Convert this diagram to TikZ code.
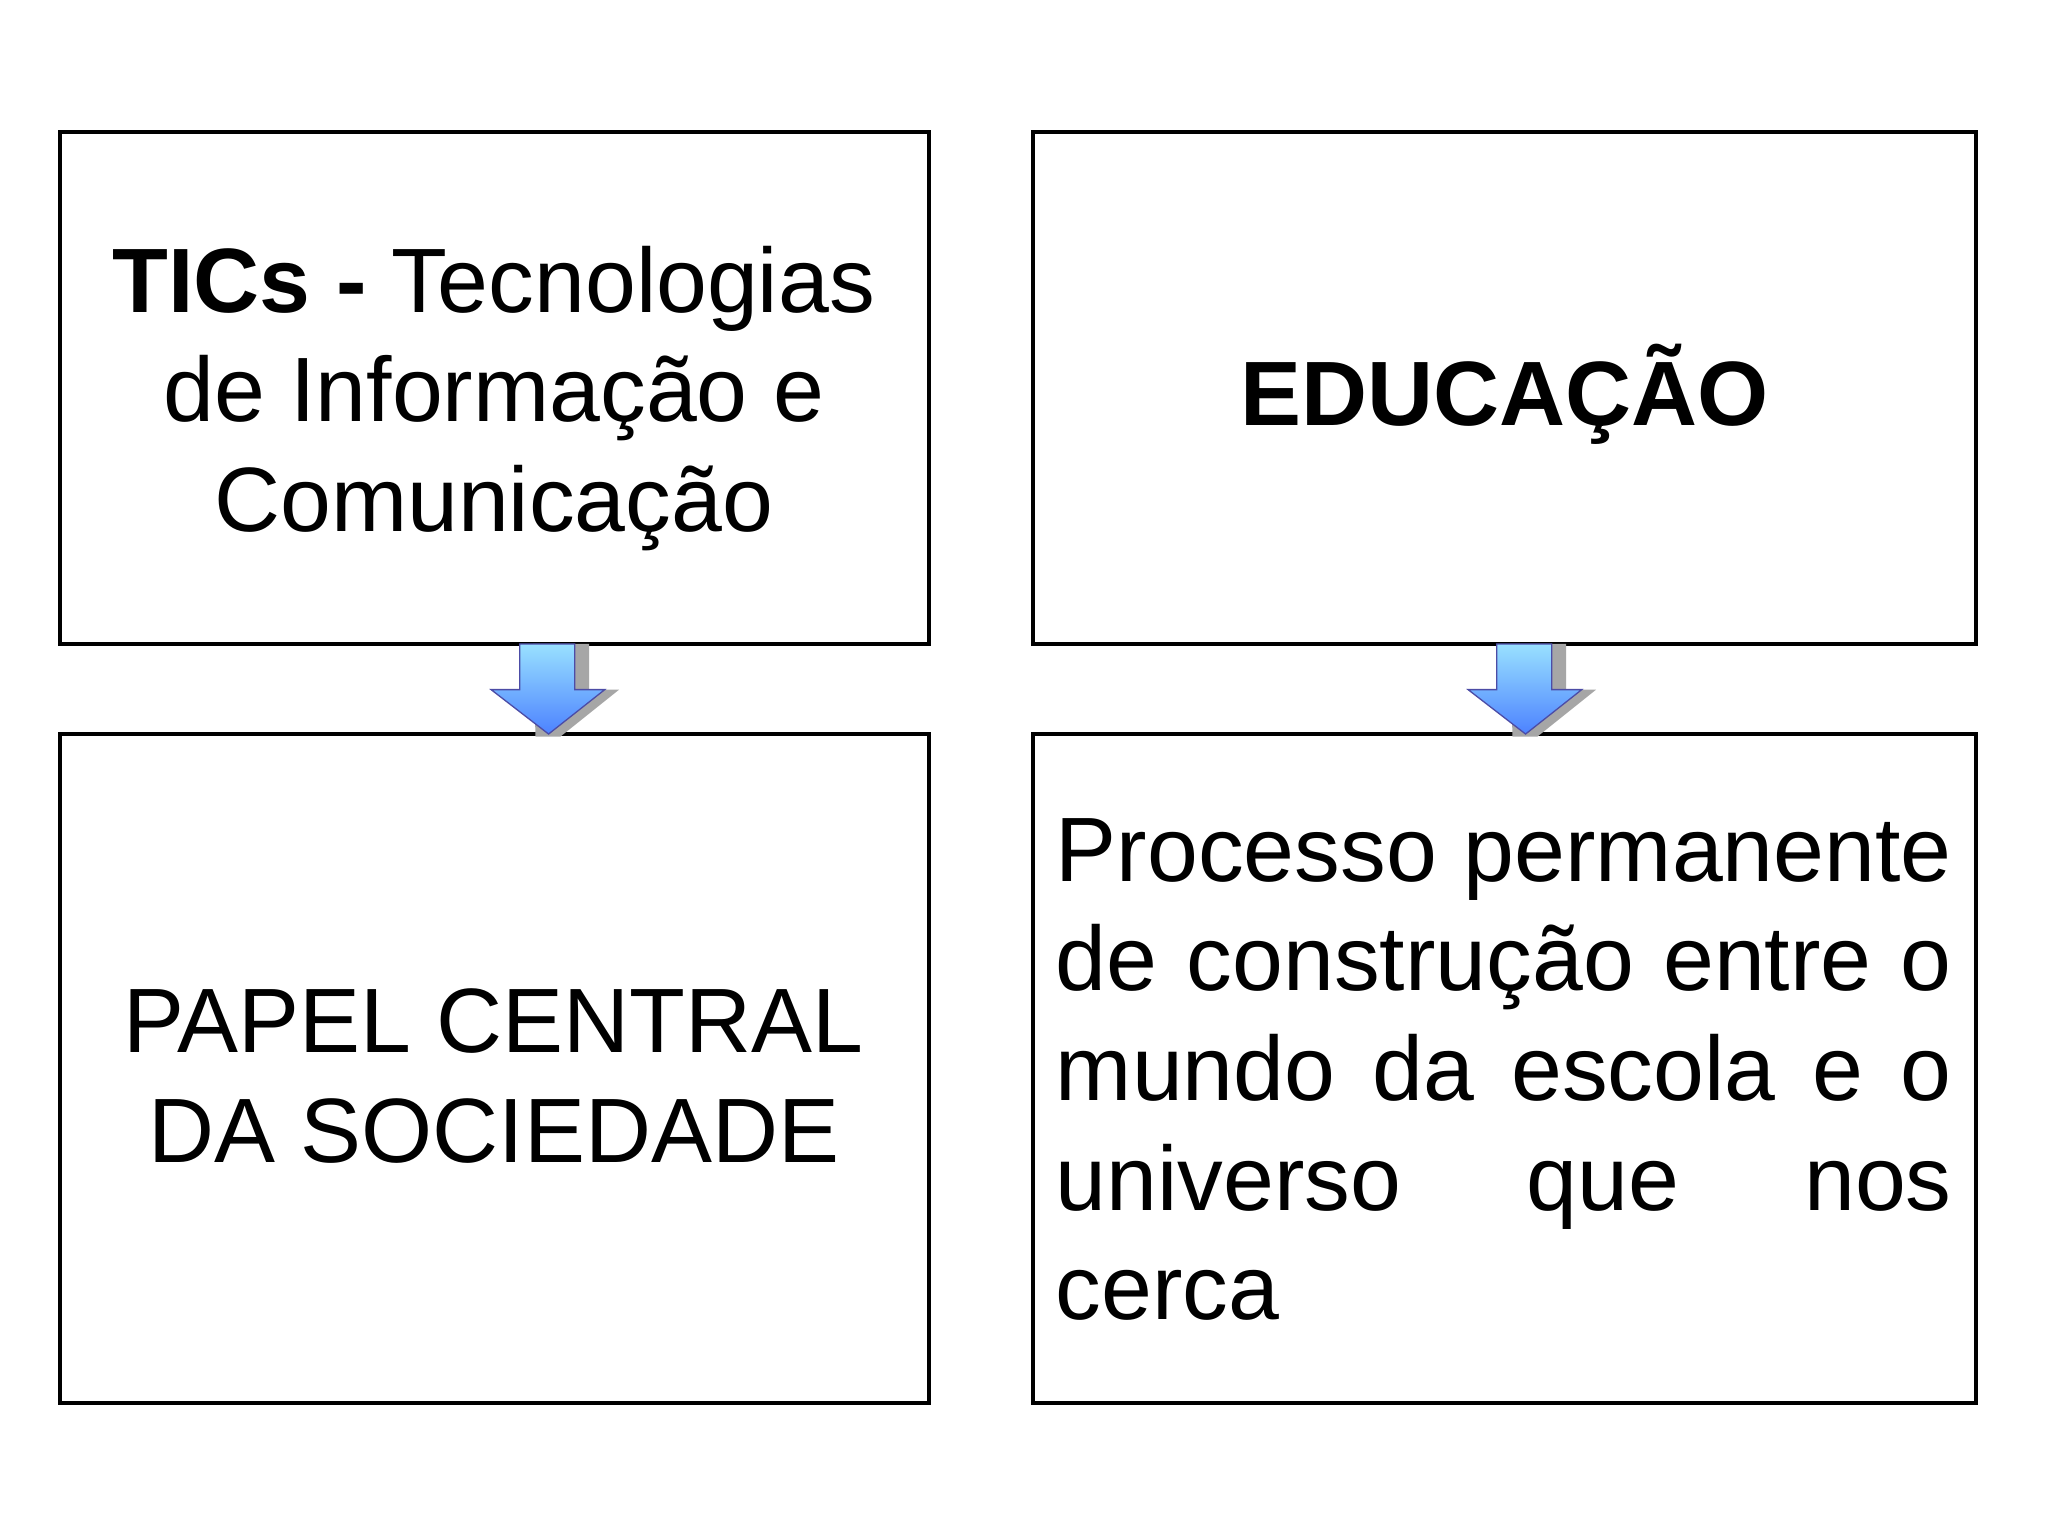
\documentclass[tikz,border=0pt]{standalone}
\usepackage{fontspec}
\setmainfont{Liberation Sans}
\begin{document}
\begin{tikzpicture}[x=0.5pt,y=-0.5pt]
\tikzset{boxx/.style={draw=black,line width=1.5pt,fill=white},
 txt/.style={font=\fontsize{35}{42}\selectfont,align=center},
 arrowshape/.style={top color=blue!30!cyan!40!white,bottom color=blue!70!cyan!70!white,draw=blue!50!black!70,line width=0.5pt},
 arrowshadow/.style={fill=gray!70}}
\useasboundingbox (0,0) rectangle (1568,1176);
\fill[white] (0,0) rectangle (1568,1176);
\draw[boxx] (46,101) rectangle (711,493);
\draw[boxx] (791,101) rectangle (1513,493);
\draw[boxx] (46,562) rectangle (711,1074);
\draw[boxx] (791,562) rectangle (1513,1074);
\node[txt] (a) at (378,305) {\textbf{TICs -} Tecnologias\\de Informação e\\Comunicação};
\node[txt] (b) at (1152,302) {\textbf{EDUCAÇÃO}};
\node[txt] (c) at (378,824) {PAPEL CENTRAL\\DA SOCIEDADE};
\node[font=\fontsize{35}{42}\selectfont,text width=343pt,align=justify,inner sep=0pt,anchor=north west] (d) at (808,626) {Processo permanente\linebreak de construção entre o\linebreak mundo da escola e o\linebreak universo que nos\linebreak cerca\par};
\foreach \cx in {420,1168}{
 \fill[arrowshadow] (\cx-12,493) -- (\cx+31,493) -- (\cx+31,528) -- (\cx+54,528) -- (\cx+9,564) -- (\cx-10,564) -- cycle;
 \draw[arrowshape] (\cx-22,493) -- (\cx+20,493) -- (\cx+20,528) -- (\cx+43,528) -- (\cx,562) -- (\cx-44,528) -- (\cx-22,528) -- cycle;
}
\end{tikzpicture}
\end{document}
